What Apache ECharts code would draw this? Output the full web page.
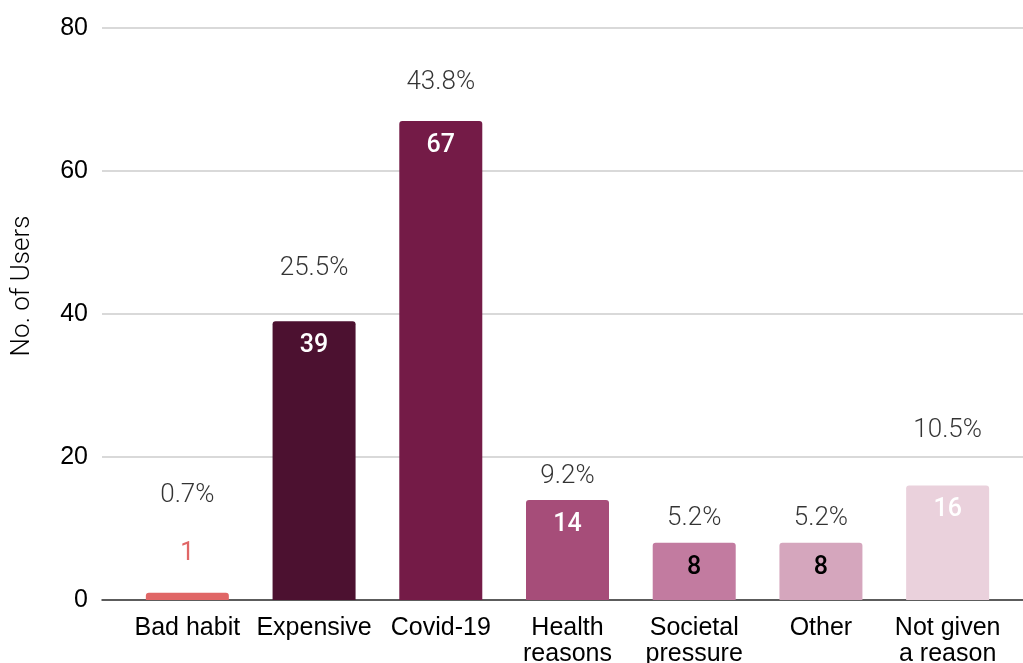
<!DOCTYPE html>
<html>
<head>
<meta charset="utf-8">
<script src="https://cdn.jsdelivr.net/npm/echarts@6/dist/echarts.min.js"></script>
<style>
  html, body { margin: 0; padding: 0; background: #fff; }
  #chart { width: 1023px; height: 663px; }
</style>
</head>
<body>
<div id="chart"></div>
<script>
// Reasons for quitting, number of users per reason
const categories = ['Bad habit', 'Expensive', 'Covid-19', 'Health\nreasons', 'Societal\npressure', 'Other', 'Not given\na reason'];
const users = [1, 39, 67, 14, 8, 8, 16];
const yTicks = [0, 20, 40, 60, 80];

// Presentation: bar fills, value-label colours, and how far each share label sits above its bar
const barColors = ['#e06666', '#4c1130', '#741b47', '#a64d79', '#c27ba0', '#d5a6bd', '#ead1dc'];
const valueLabelColors = ['#e06666', '#ffffff', '#ffffff', '#ffffff', '#000000', '#000000', '#ffffff'];
const shareLabelGap = [84, 40, 25, 10, 11, 11, 42];

const total = users.reduce((a, b) => a + b, 0);

const chart = echarts.init(document.getElementById('chart'), null, { renderer: 'canvas' });

const barData = users.map((v, i) => {
  const item = {
    value: v,
    itemStyle: { color: barColors[i] },
    label: { color: valueLabelColors[i] }
  };
  // A bar too short to hold its number gets the number above it
  if (v < 4) {
    item.label.position = 'top';
    item.label.distance = 27;
    item.label.fontWeight = 400;
  }
  return item;
});

const shareData = users.map((v, i) => ({
  value: v,
  label: { distance: shareLabelGap[i] }
}));

const axisFont = { fontFamily: 'Liberation Sans, Arial, sans-serif', fontSize: 25, color: '#000' };

chart.setOption({
  animation: false,
  backgroundColor: '#fff',
  grid: [
    // full-width frame for the gridlines and baseline
    { left: 102, right: 0, top: 28, bottom: 63, outerBoundsMode: 'none', containLabel: false },
    // bars
    { left: 124, right: 12, top: 28, bottom: 63, outerBoundsMode: 'none', containLabel: false }
  ],
  xAxis: [
    {
      gridIndex: 0, type: 'category', data: categories,
      axisLine: { show: true, lineStyle: { color: '#333', width: 1.5 } },
      axisTick: { show: false }, axisLabel: { show: false }, splitLine: { show: false }
    },
    {
      gridIndex: 1, type: 'category', data: categories,
      axisLine: { show: false }, axisTick: { show: false },
      axisLabel: Object.assign({ margin: 15, lineHeight: 26, interval: 0 }, axisFont)
    }
  ],
  yAxis: [
    {
      gridIndex: 0, type: 'value', min: 0, max: 80, interval: 20,
      axisLine: { show: false }, axisTick: { show: false },
      axisLabel: Object.assign({ margin: 14, formatter: v => yTicks.includes(v) ? String(v) : '' }, axisFont),
      splitLine: { show: true, lineStyle: { color: '#cccccc', width: 1.5 } }
    },
    {
      gridIndex: 1, type: 'value', min: 0, max: 80, interval: 20,
      show: false, splitLine: { show: false }
    }
  ],
  graphic: [
    {
      type: 'text',
      x: 22, y: 286,
      rotation: Math.PI / 2,
      style: {
        text: 'No. of Users',
        fontFamily: 'Roboto, sans-serif',
        fontWeight: 300,
        fontSize: 26,
        fill: '#000',
        align: 'center',
        verticalAlign: 'middle'
      }
    }
  ],
  series: [
    {
      type: 'bar',
      xAxisIndex: 1, yAxisIndex: 1,
      data: barData,
      barWidth: 83,
      itemStyle: { borderRadius: [3, 3, 0, 0] },
      label: {
        show: true,
        position: 'insideTop',
        distance: 12,
        fontFamily: 'Roboto, sans-serif',
        fontWeight: 500,
        fontSize: 25
      }
    },
    {
      type: 'scatter',
      xAxisIndex: 1, yAxisIndex: 1,
      data: shareData,
      symbolSize: 0,
      silent: true,
      label: {
        show: true,
        position: 'top',
        fontFamily: 'Roboto, sans-serif',
        fontWeight: 300,
        fontSize: 26,
        color: '#000',
        formatter: p => (p.value / total * 100).toFixed(1) + '%'
      }
    }
  ]
});
</script>
</body>
</html>
